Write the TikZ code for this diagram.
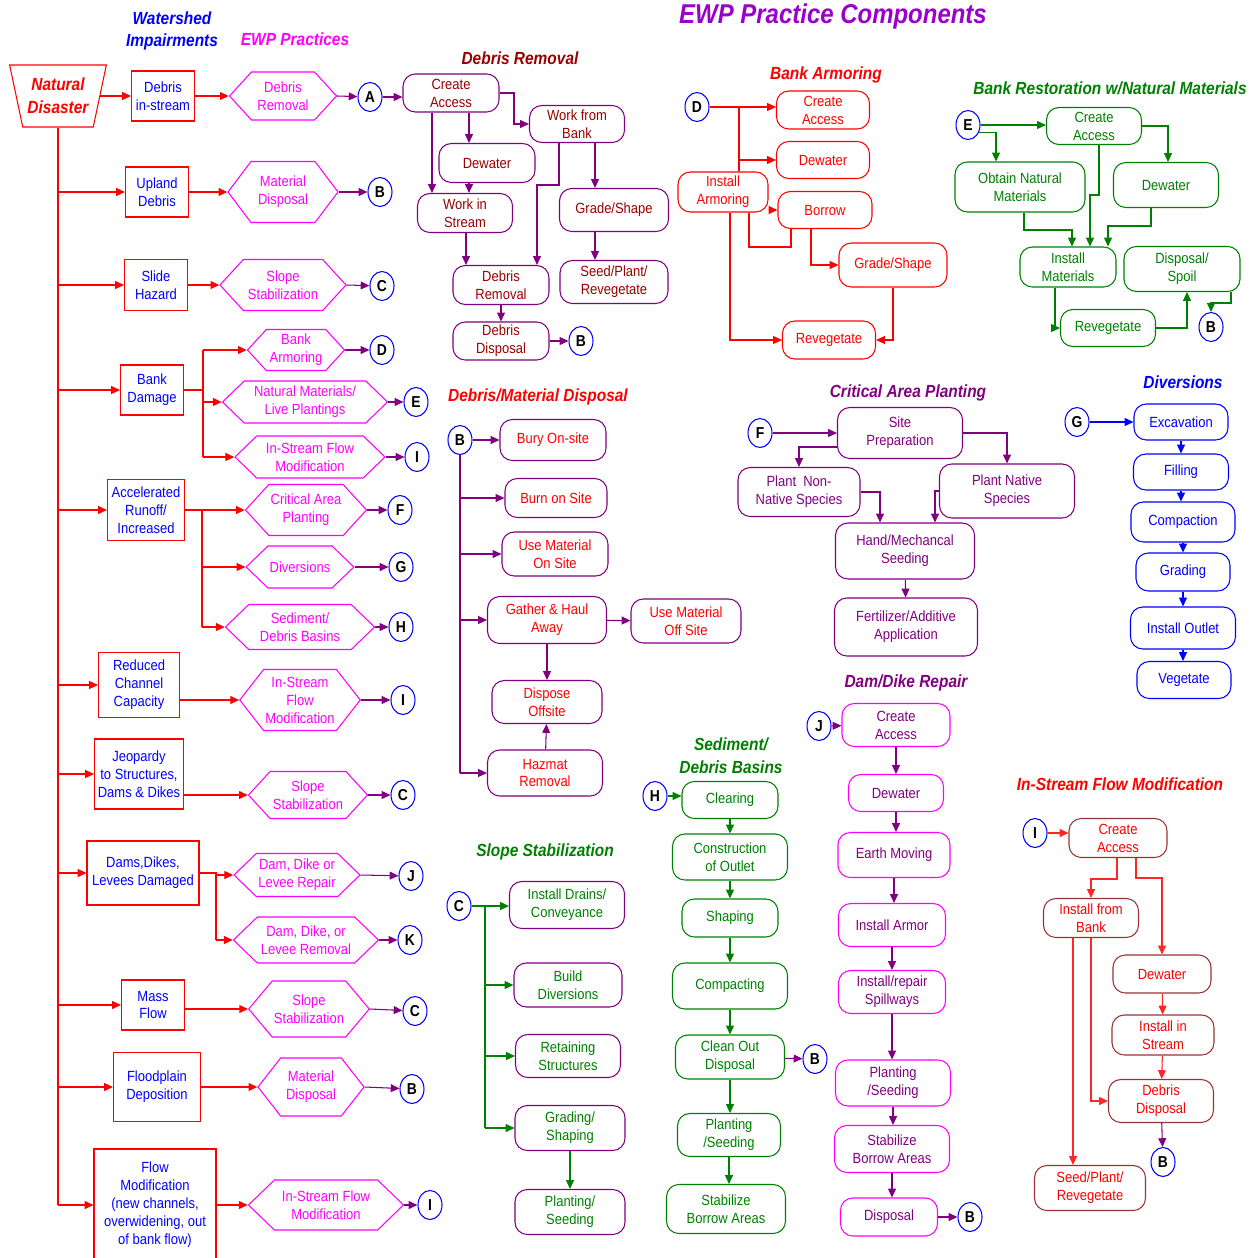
\documentclass[tikz,border=0pt]{standalone}
\usepackage{fontspec}
\setmainfont[FakeStretch=0.88]{Liberation Sans}
\usetikzlibrary{shapes.geometric,shapes.symbols,arrows.meta}

\definecolor{ewpred}{HTML}{FF0000}
\definecolor{ewpblue}{HTML}{0000FF}
\definecolor{ewpmag}{HTML}{FF00FF}
\definecolor{ewppurp}{HTML}{800080}
\definecolor{ewpmaroon}{HTML}{990000}
\definecolor{ewpgreen}{HTML}{008000}
\definecolor{ewpbrown}{HTML}{993333}
\definecolor{ewpviolet}{HTML}{9900CC}

\newdimen\pxu
\pxu=0.02cm

\tikzset{
  every node/.style={font=\fontsize{8.4}{10.2}\selectfont, align=center, inner sep=1pt},
  sz/.style 2 args={minimum width=#1\pxu, minimum height=#2\pxu},
  ttl/.style={font=\fontsize{10}{13}\selectfont\bfseries\itshape},
  impbox/.style={rectangle, draw=ewpred, text=ewpblue, line width=0.6pt},
  practice/.style={signal, signal to=east and west, signal pointer angle=#1,
    draw=ewpmag, text=ewpmag, line width=0.6pt},
  practice/.default=95,
  lbl/.style={ellipse, draw=ewpblue, text=black, inner sep=0pt, line width=0.6pt,
    minimum width=24\pxu, minimum height=29\pxu, font=\fontsize{9}{10}\selectfont\bfseries},
  stepbox/.style={rectangle, rounded corners=7pt, line width=0.6pt},
  link/.style={-{Triangle[length=5pt,width=4.5pt]}, line width=0.6pt},
}

\begin{document}
\begin{tikzpicture}[x=0.02cm, y=-0.02cm]
  \useasboundingbox (0,0) rectangle (1260,1257);

  % Headings
  \node[ttl, text=ewpblue] (hwi) at (172,31) {Watershed\\Impairments};
  \node[ttl, text=ewpmag] (hep) at (295,39) {EWP Practices};
  \node[ttl, text=ewpviolet, font=\fontsize{15.5}{18}\selectfont\bfseries\itshape] (hpc) at (833,16) {EWP Practice Components};

  % Natural disaster and the impairments
  \node[trapezium, trapezium left angle=73, trapezium right angle=73, shape border rotate=180,
    trapezium stretches=true, sz={97}{62}, draw=ewpred, text=ewpred, line width=0.6pt,
    font=\fontsize{10}{13}\selectfont\bfseries\itshape] (nd) at (58,96) {Natural\\Disaster};

  \node[impbox, sz={63}{50}] (i1) at (163,96) {Debris\\in-stream};
  \node[impbox, sz={63}{50}] (i2) at (157,192) {Upland\\Debris};
  \node[impbox, sz={63}{51}] (i3) at (156,285) {Slide\\Hazard};
  \node[impbox, sz={63}{50}] (i4) at (152,390) {Bank\\Damage};
  \node[impbox, sz={77}{61}] (i5) at (146,510) {Accelerated\\Runoff/\\Increased};
  \node[impbox, sz={81}{65}] (i6) at (139,685) {Reduced\\Channel\\Capacity};
  \node[impbox, sz={89}{70}] (i7) at (139,774) {Jeopardy\\to Structures,\\Dams \& Dikes};
  \node[impbox, sz={112}{64}] (i8) at (143,873) {Dams,Dikes,\\Levees Damaged};
  \node[impbox, sz={63}{50}] (i9) at (153,1005) {Mass\\Flow};
  \node[impbox, sz={87}{69}] (i10) at (157,1087) {Floodplain\\Deposition};
  \node[impbox, sz={122}{112}] (i11) at (155,1205) {Flow\\Modification\\(new channels,\\overwidening, out\\of bank flow)};

  % EWP practices
  \node[practice, sz={107}{48}] (p1) at (283,96) {Debris\\Removal};
  \node[practice=106, sz={110}{61}] (p2) at (283,192) {Material\\Disposal};
  \node[practice, sz={126}{51}] (p3) at (283,285) {Slope\\Stabilization};
  \node[practice, sz={97}{41}] (p4) at (296,350) {Bank\\Armoring};
  \node[practice=88, sz={165}{42}] (p5) at (305,402) {Natural Materials/\\Live Plantings};
  \node[practice=88, sz={150}{42}] (p6) at (310,457) {In-Stream Flow\\Modification};
  \node[practice, sz={119}{51}] (p7) at (306,510) {Critical Area\\Planting};
  \node[practice=88, sz={105}{42}] (p8) at (300,567) {Diversions};
  \node[practice=88, sz={149}{45}] (p9) at (300,627) {Sediment/\\Debris Basins};
  \node[practice=104, sz={119}{61}] (p10) at (300,700) {In-Stream\\Flow\\Modification};
  \node[practice, sz={119}{47}] (p11) at (308,795) {Slope\\Stabilization};
  \node[practice=88, sz={126}{43}] (p12) at (297,875) {Dam, Dike or\\Levee Repair};
  \node[practice=88, sz={145}{46}] (p13) at (306,940) {Dam, Dike, or\\Levee Removal};
  \node[practice=100, sz={118}{56}] (p14) at (309,1009) {Slope\\Stabilization};
  \node[practice=104, sz={106}{58}] (p15) at (311,1087) {Material\\Disposal};
  \node[practice=88, sz={155}{50}] (p16) at (326,1205) {In-Stream Flow\\Modification};

  % Letters
  \node[lbl] (c1) at (370,97) {A};
  \node[lbl] (c2) at (380,192) {B};
  \node[lbl] (c3) at (382,286) {C};
  \node[lbl] (c4) at (382,350) {D};
  \node[lbl] (c5) at (416,402) {E};
  \node[lbl] (c6) at (417,457) {I};
  \node[lbl] (c7) at (400,510) {F};
  \node[lbl] (c8) at (401,567) {G};
  \node[lbl] (c9) at (401,627) {H};
  \node[lbl] (c10) at (403,700) {I};
  \node[lbl] (c11) at (403,795) {C};
  \node[lbl] (c12) at (411,876) {J};
  \node[lbl] (c13) at (410,940) {K};
  \node[lbl] (c14) at (415,1011) {C};
  \node[lbl] (c15) at (412,1089) {B};
  \node[lbl] (c16) at (430,1205) {I};

  % Trunk and branches
  \draw[ewpred, line width=0.6pt] (nd.south) -- (nd.south |- i11.west);
  \draw[link, ewpred] (nd.east |- i1.west) -- (i1.west);
  \foreach \n in {i2,i3,i4,i5,i6,i7,i8,i9,i10,i11}
    \draw[link, ewpred] (nd.south |- \n.west) -- (\n.west);
  \foreach \a/\b in {i1/p1,i2/p2,i3/p3,i6/p10,i7/p11,i9/p14,i10/p15,i11/p16}
    \draw[link, ewpred] (\a.east |- \b.west) -- (\b.west);
  \draw[ewpred, line width=0.6pt] (i4.east) -- (203,0 |- i4.east) (203,0 |- p4.west) -- (203,0 |- p6.west);
  \foreach \p in {p4,p5,p6}
    \draw[link, ewpred] (203,0 |- \p.west) -- (\p.west);
  \draw[ewpred, line width=0.6pt] (i5.east) -- (202,0 |- i5.east) -- (202,0 |- p9.west);
  \foreach \p in {p7,p8,p9}
    \draw[link, ewpred] (202,0 |- \p.west) -- (\p.west);
  \draw[ewpred, line width=0.6pt] (i8.east) -- (216,0 |- i8.east) -- (216,0 |- p13.west);
  \foreach \p in {p12,p13}
    \draw[link, ewpred] (216,0 |- \p.west) -- (\p.west);
  \foreach \i in {1,...,16}
    \draw[link, ewppurp] (p\i.east) -- (c\i);

  % Debris Removal
  \node[ttl, text=ewpmaroon] (tdr) at (520,58) {Debris Removal};
  \tikzset{drbox/.style={stepbox, draw=ewppurp, text=ewpmaroon}}
  \node[drbox, sz={96}{38}] (r1) at (451,93) {Create\\Access};
  \node[drbox, sz={95}{37}] (r2) at (577,124) {Work from\\Bank};
  \node[drbox, sz={96}{39}] (r3) at (487,163) {Dewater};
  \node[drbox, sz={95}{39}] (r4) at (465,213) {Work in\\Stream};
  \node[drbox, sz={109}{43}] (r5) at (614,210) {Grade/Shape};
  \node[drbox, sz={96}{39}] (r6) at (501,285) {Debris\\Removal};
  \node[drbox, sz={108}{43}] (r7) at (614,282) {Seed/Plant/\\Revegetate};
  \node[drbox, sz={96}{38}] (r8) at (501,341) {Debris\\Disposal};
  \node[lbl] (rb) at (581,341) {B};
  \begin{scope}[ewppurp]
    \draw[link] (c1.east) -- (c1.east -| r1.west);
    \draw[link] (r1.east) -- (514,0 |- r1.east) |- (r2.west);
    \draw[link] (469,0 |- r1.south) -- (469,0 |- r3.north);
    \draw[link] (432,0 |- r1.south) -- (432,0 |- r4.north);
    \draw[link] (469,0 |- r3.south) -- (469,0 |- r4.north);
    \draw[link] (466,0 |- r4.south) -- (466,0 |- r6.north);
    \draw[link] (559,0 |- r2.south) -- (559,185) -| (537,0 |- r6.north);
    \draw[link] (595,0 |- r2.south) -- (595,0 |- r5.north);
    \draw[link] (595,0 |- r5.south) -- (595,0 |- r7.north);
    \draw[link] (r6) -- (r8);
    \draw[link] (r8) -- (rb);
  \end{scope}

  % Bank Armoring
  \node[ttl, text=ewpred] (tba) at (826,75) {Bank Armoring};
  \tikzset{babox/.style={stepbox, draw=ewpred, text=ewpred}}
  \node[lbl] (d) at (697,107) {D};
  \node[babox, sz={93}{38}] (a1) at (823,110) {Create\\Access};
  \node[babox, sz={93}{37}] (a2) at (823,160) {Dewater};
  \node[babox, sz={90}{40}] (a3) at (723,192) {Install\\Armoring};
  \node[babox, sz={94}{37}] (a4) at (825,210) {Borrow};
  \node[babox, sz={108}{44}] (a5) at (893,265) {Grade/Shape};
  \node[babox, sz={93}{38}] (a6) at (829,340) {Revegetate};
  \begin{scope}[ewpred]
    \draw[link] (d.east) -- (d.east -| a1.west);
    \draw[line width=0.6pt] (739,0 |- d.east) -- (739,0 |- a3.north);
    \draw[link] (739,0 |- a2.west) -- (a2.west);
    \draw[link] (a3.east |- a4.west) -- (a4.west);
    \draw[line width=0.6pt] (749,0 |- a3.south) -- (749,247) -| (791,0 |- a4.south);
    \draw[link] (811,0 |- a4.south) |- (a5.west);
    \draw[link] (a5.south) |- (a6.east);
    \draw[link] (730,0 |- a3.south) |- (a6.west);
  \end{scope}

  % Bank Restoration w/Natural Materials
  \node[ttl, text=ewpgreen] (tbr) at (1110,88) {Bank Restoration w/Natural Materials};
  \tikzset{brbox/.style={stepbox, draw=ewpgreen, text=ewpgreen}}
  \node[lbl] (e) at (968,125) {E};
  \node[brbox, sz={95}{37}] (n1) at (1094,126) {Create\\Access};
  \node[brbox, sz={130}{50}] (n2) at (1020,187) {Obtain Natural\\Materials};
  \node[brbox, sz={105}{45}] (n3) at (1166,185) {Dewater};
  \node[brbox, sz={96}{40}] (n4) at (1068,267) {Install\\Materials};
  \node[brbox, sz={116}{45}] (n5) at (1182,269) {Disposal/\\Spoil};
  \node[brbox, sz={95}{37}] (n6) at (1108,328) {Revegetate};
  \node[lbl] (eb) at (1211,327) {B};
  \begin{scope}[ewpgreen]
    \draw[link] (e.east) -- (e.east -| n1.west);
    \draw[link] (e.-35) -| (996,0 |- n2.north);
    \draw[link] (n1.east) -| (1168,0 |- n3.north);
    \draw[link] (1099,0 |- n1.south) -- (1099,195) -| (1090,0 |- n4.north);
    \draw[link] (1024,0 |- n2.south) -- (1024,230) -| (1072,0 |- n4.north);
    \draw[link] (1151,0 |- n3.south) -- (1151,226) -| (1108,0 |- n4.north);
    \draw[link] (1055,0 |- n4.south) |- (n6.west);
    \draw[link] (n6.east) -| (1187,0 |- n5.south);
    \draw[link] (1231,0 |- n5.south) -- (1231,303) -| (eb.north);
  \end{scope}

  % Debris/Material Disposal
  \node[ttl, text=ewpred] (tdm) at (538,397) {Debris/Material Disposal};
  \tikzset{dmbox/.style={stepbox, draw=ewppurp, text=ewpred}}
  \node[lbl] (b0) at (460,440) {B};
  \node[dmbox, sz={106}{41}] (m1) at (553,440) {Bury On-site};
  \node[dmbox, sz={102}{39}] (m2) at (556,498) {Burn on Site};
  \node[dmbox, sz={106}{44}] (m3) at (555,554) {Use Material\\On Site};
  \node[dmbox, sz={119}{47}] (m4) at (547,620) {Gather \& Haul\\Away};
  \node[dmbox, sz={110}{44}] (m5) at (686,621) {Use Material\\Off Site};
  \node[dmbox, sz={110}{43}] (m6) at (547,702) {Dispose\\Offsite};
  \node[dmbox, sz={115}{46}] (m7) at (545,773) {Hazmat\\Removal};
  \begin{scope}[ewppurp]
    \draw[link] (b0) -- (m1);
    \draw[line width=0.6pt] (b0.south) -- (b0.south |- m7.west);
    \foreach \m in {m2,m3,m4,m7}
      \draw[link] (b0.south |- \m.west) -- (\m.west);
    \draw[link] (m4) -- (m5);
    \draw[link] (m4) -- (m6);
    \draw[link] (m7) -- (m6);
  \end{scope}

  % Critical Area Planting
  \node[ttl, text=ewppurp] (tcp) at (908,393) {Critical Area Planting};
  \tikzset{cpbox/.style={stepbox, draw=ewppurp, text=ewppurp}}
  \node[lbl] (f) at (760,433) {F};
  \node[cpbox, sz={125}{51}] (k1) at (900,433) {Site\\Preparation};
  \node[cpbox, sz={122}{49}] (k2) at (799,492) {Plant~~Non-\\Native Species};
  \node[cpbox, sz={135}{54}] (k3) at (1007,491) {Plant Native\\Species};
  \node[cpbox, sz={139}{56}] (k4) at (905,551) {Hand/Mechancal\\Seeding};
  \node[cpbox, sz={143}{58}] (k5) at (906,627) {Fertilizer/Additive\\Application};
  \begin{scope}[ewppurp]
    \draw[link] (f) -- (k1);
    \draw[link] ([yshift=-14\pxu]k1.west) -| (k2.north);
    \draw[link] (k1.east) -| (k3.north);
    \draw[link] (k2.east) -| (880,0 |- k4.north);
    \draw[link] (k3.west) -| (935,0 |- k4.north);
    \draw[link] (k4) -- (k5);
  \end{scope}

  % Diversions
  \node[ttl, text=ewpblue] (tdv) at (1183,382) {Diversions};
  \tikzset{dvbox/.style={stepbox, draw=ewpblue, text=ewpblue}}
  \node[lbl] (g) at (1077,422) {G};
  \node[dvbox, sz={94}{36}] (v1) at (1181,422) {Excavation};
  \node[dvbox, sz={95}{36}] (v2) at (1181,472) {Filling};
  \node[dvbox, sz={104}{40}] (v3) at (1183,522) {Compaction};
  \node[dvbox, sz={94}{38}] (v4) at (1183,572) {Grading};
  \node[dvbox, sz={105}{42}] (v5) at (1183,628) {Install Outlet};
  \node[dvbox, sz={94}{37}] (v6) at (1184,680) {Vegetate};
  \draw[link, ewpblue] (g) -- (v1);
  \foreach \a/\b in {v1/v2,v2/v3,v3/v4,v4/v5,v5/v6}
    \draw[link, ewpblue] (\a.south) -- (\a.south |- \b.north);

  % Sediment/Debris Basins
  \node[ttl, text=ewpgreen] (tsb) at (731,756) {Sediment/\\Debris Basins};
  \tikzset{sbbox/.style={stepbox, draw=ewpgreen, text=ewpgreen}}
  \node[lbl] (h) at (655,796) {H};
  \node[sbbox, sz={96}{37}] (s1) at (730,800) {Clearing};
  \node[sbbox, sz={115}{46}] (s2) at (730,857) {Construction\\of Outlet};
  \node[sbbox, sz={96}{38}] (s3) at (730,918) {Shaping};
  \node[sbbox, sz={115}{46}] (s4) at (730,986) {Compacting};
  \node[sbbox, sz={109}{44}] (s5) at (730,1057) {Clean Out\\Disposal};
  \node[sbbox, sz={103}{43}] (s6) at (729,1135) {Planting\\/Seeding};
  \node[sbbox, sz={119}{49}] (s7) at (726,1209) {Stabilize\\Borrow Areas};
  \node[lbl] (sbb) at (815,1059) {B};
  \draw[link, ewpgreen] (h.east) -- (h.east -| s1.west);
  \foreach \a/\b in {s1/s2,s2/s3,s3/s4,s4/s5,s5/s6,s6/s7}
    \draw[link, ewpgreen] (\a.south) -- (\a.south |- \b.north);
  \draw[link, ewppurp] (s5) -- (sbb);

  % Dam/Dike Repair
  \node[ttl, text=ewppurp] (tdd) at (906,683) {Dam/Dike Repair};
  \tikzset{ddbox/.style={stepbox, draw=ewpmag, text=ewppurp}}
  \node[lbl] (j) at (819,726) {J};
  \node[ddbox, sz={108}{43}] (q1) at (896,725) {Create\\Access};
  \node[ddbox, sz={95}{37}] (q2) at (896,793) {Dewater};
  \node[ddbox, sz={112}{45}] (q3) at (894,855) {Earth Moving};
  \node[ddbox, sz={107}{43}] (q4) at (892,925) {Install Armor};
  \node[ddbox, sz={107}{43}] (q5) at (892,992) {Install/repair\\Spillways};
  \node[ddbox, sz={115}{46}] (q6) at (893,1083) {Planting\\/Seeding};
  \node[ddbox, sz={115}{47}] (q7) at (892,1149) {Stabilize\\Borrow Areas};
  \node[ddbox, sz={97}{38}] (q8) at (889,1217) {Disposal};
  \node[lbl] (qb) at (970,1217) {B};
  \draw[link, ewppurp] (j) -- (q1);
  \foreach \a/\b in {q1/q2,q2/q3,q3/q4,q4/q5,q5/q6,q6/q7,q7/q8}
    \draw[link, ewppurp] (\a.south) -- (\a.south |- \b.north);
  \draw[link, ewppurp] (q8) -- (qb);

  % Slope Stabilization
  \node[ttl, text=ewpgreen] (tss) at (545,852) {Slope Stabilization};
  \tikzset{ssbox/.style={stepbox, draw=ewppurp, text=ewpgreen}}
  \node[lbl] (cc) at (459,906) {C};
  \node[ssbox, sz={115}{47}] (t1) at (567,905) {Install Drains/\\Conveyance};
  \node[ssbox, sz={108}{44}] (t2) at (568,985) {Build\\Diversions};
  \node[ssbox, sz={105}{43}] (t3) at (568,1056) {Retaining\\Structures};
  \node[ssbox, sz={110}{45}] (t4) at (570,1128) {Grading/\\Shaping};
  \node[ssbox, sz={110}{45}] (t5) at (570,1212) {Planting/\\Seeding};
  \begin{scope}[ewpgreen]
    \draw[link] (cc.east) -- (cc.east -| t1.west);
    \draw[line width=0.6pt] (485,0 |- cc.east) -- (485,0 |- t4.west);
    \foreach \t in {t2,t3,t4}
      \draw[link] (485,0 |- \t.west) -- (\t.west);
    \draw[link] (t4) -- (t5);
  \end{scope}

  % In-Stream Flow Modification
  \node[ttl, text=ewpred] (tfm) at (1120,784) {In-Stream Flow Modification};
  \tikzset{fmbox/.style={stepbox, draw=ewpbrown, text=ewpred}}
  \node[lbl] (ii) at (1035,833) {I};
  \node[fmbox, sz={98}{39}] (w1) at (1118,838) {Create\\Access};
  \node[fmbox, sz={95}{39}] (w2) at (1091,918) {Install from\\Bank};
  \node[fmbox, sz={98}{38}] (w3) at (1162,974) {Dewater};
  \node[fmbox, sz={102}{40}] (w4) at (1163,1035) {Install in\\Stream};
  \node[fmbox, sz={105}{43}] (w5) at (1161,1101) {Debris\\Disposal};
  \node[lbl] (wb) at (1163,1162) {B};
  \node[fmbox, sz={111}{45}] (w6) at (1090,1188) {Seed/Plant/\\Revegetate};
  \begin{scope}[ewpred!85!white]
    \draw[link] (ii.east) -- (ii.east -| w1.west);
    \draw[link] (1117,0 |- w1.south) -- (1117,879) -| (w2.north);
    \draw[link] (1136,0 |- w1.south) -- (1136,878) -| (w3.north);
    \draw[link] (w3) -- (w4);
    \draw[link] (w4) -- (w5);
    \draw[link] (1091,0 |- w2.south) |- (w5.west);
    \draw[link] (1073,0 |- w2.south) -- (1073,0 |- w6.north);
  \end{scope}
  \draw[link, ewppurp] (w5) -- (wb);
\end{tikzpicture}
\end{document}
